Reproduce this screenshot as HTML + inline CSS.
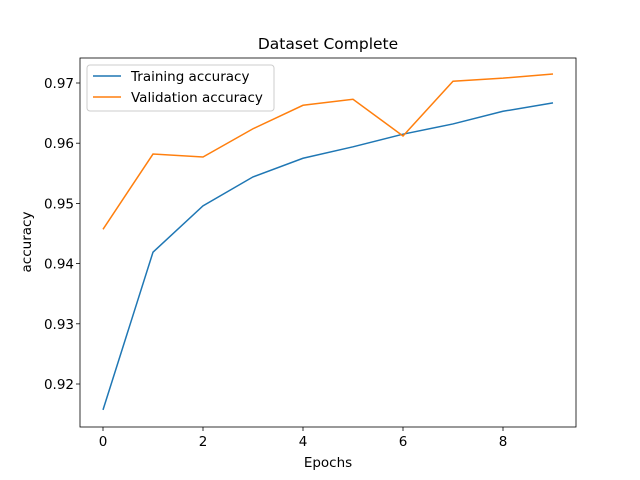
<!DOCTYPE html>
<html><head><meta charset="utf-8"><style>body{margin:0;background:#fff}svg{display:block;font-family:"DejaVu Sans","Liberation Sans",sans-serif}</style></head>
<body>
<svg id="chart" width="640" height="480"></svg>
<script>
const epochs=[0,1,2,3,4,5,6,7,8,9];
const trainAcc=[0.9157,0.9419,0.9496,0.9544,0.9575,0.9594,0.9615,0.9632,0.9653,0.9667];
const valAcc=[0.9457,0.9582,0.9577,0.9624,0.9663,0.9673,0.9612,0.9703,0.9708,0.9715];
const xTicks=[0,2,4,6,8];
const yTicks=[0.92,0.93,0.94,0.95,0.96,0.97];
const yTickLabels=["0.92","0.93","0.94","0.95","0.96","0.97"];
const svg=document.getElementById('chart');
const NS='http://www.w3.org/2000/svg';
const L=80,R=576,T=58,B=427;
const xs=v=>103+v*50;
const ys=v=>83+(0.97-v)*6020;
function mk(tag,attrs,parent){const e=document.createElementNS(NS,tag);for(const k in attrs)e.setAttribute(k,attrs[k]);(parent||svg).appendChild(e);return e;}
const title=mk('text',{x:328,y:49,'text-anchor':'middle','font-size':15.5});title.textContent='Dataset Complete';


xTicks.forEach(t=>{const g=mk('g',{});


mk('line',{x1:xs(t),x2:xs(t),y1:B,y2:B+4,stroke:'#000','stroke-width':0.8},g);
const tx=mk('text',{x:xs(t),y:B+19,'text-anchor':'middle','font-size':13.5},g);tx.textContent=t;});
yTicks.forEach((t,i)=>{const g=mk('g',{});


mk('line',{x1:L-4,x2:L,y1:ys(t),y2:ys(t),stroke:'#000','stroke-width':0.8},g);
const tx=mk('text',{x:L-6,y:ys(t)+5,'text-anchor':'end','font-size':13.5},g);tx.textContent=yTickLabels[i];});
const xl=mk('text',{x:328,y:467,'text-anchor':'middle','font-size':13.5});xl.textContent='Epochs';


const yl=mk('text',{x:31,y:242,'text-anchor':'middle','font-size':13.5,transform:'rotate(-90 31 242)'});yl.textContent='accuracy';


function line(data,color,name){const p=mk('polyline',{points:data.map((v,i)=>xs(epochs[i])+','+ys(v)).join(' '),fill:'none',stroke:color,'stroke-width':1.5});

}
line(trainAcc,'#1f77b4','training-accuracy-line');
line(valAcc,'#ff7f0e','validation-accuracy-line');
const frame=mk('rect',{x:L,y:T,width:R-L,height:B-T,fill:'none',stroke:'#000','stroke-width':0.8});


const lg=mk('g',{});


mk('rect',{x:87,y:65,width:187,height:46,rx:3,fill:'#fff',stroke:'#ccc','stroke-width':1},lg);
mk('line',{x1:93,x2:121,y1:76,y2:76,stroke:'#1f77b4','stroke-width':1.5},lg);
let t1=mk('text',{x:131,y:81,'font-size':13.5},lg);t1.textContent='Training accuracy';
mk('line',{x1:93,x2:121,y1:97,y2:97,stroke:'#ff7f0e','stroke-width':1.5},lg);
let t2=mk('text',{x:131,y:102,'font-size':13.5},lg);t2.textContent='Validation accuracy';
</script>
</body></html>
